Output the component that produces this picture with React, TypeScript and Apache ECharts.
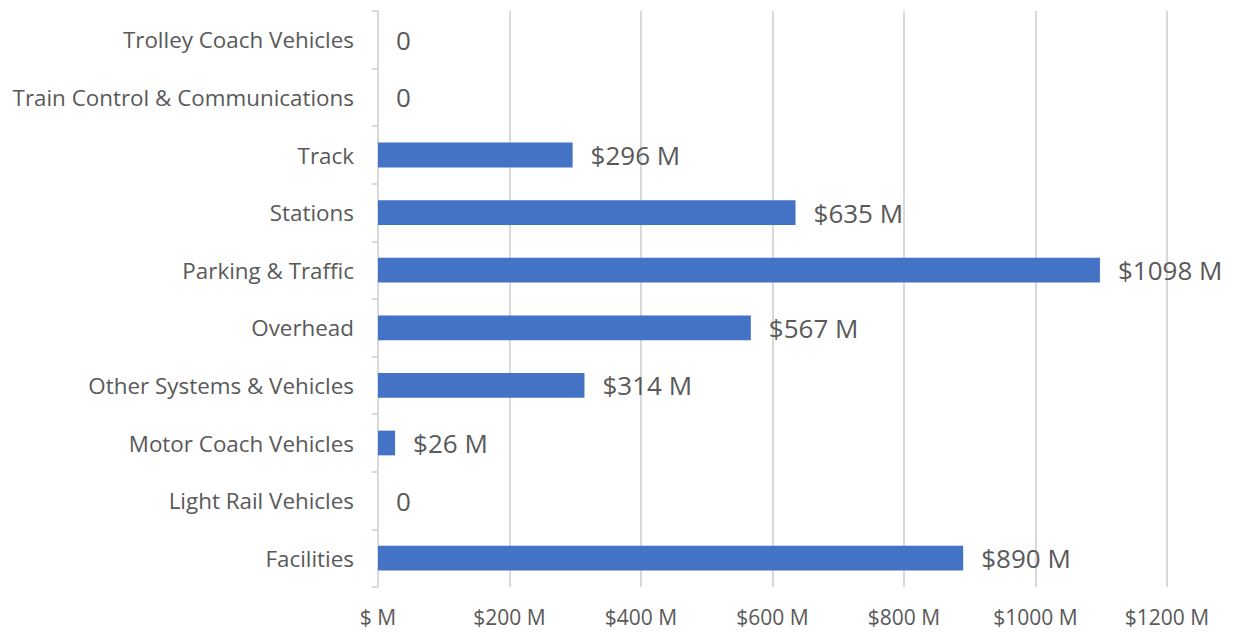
import React, { useEffect, useRef } from "react";
import * as echarts from "echarts";

const categories = [
  "Facilities",
  "Light Rail Vehicles",
  "Motor Coach Vehicles",
  "Other Systems & Vehicles",
  "Overhead",
  "Parking & Traffic",
  "Stations",
  "Track",
  "Train Control & Communications",
  "Trolley Coach Vehicles",
];
const values = [890, 0, 26, 314, 567, 1098, 635, 296, 0, 0];
const axisMin = 0;
const axisMax = 1200;
const axisStep = 200;

export default function App() {
  const ref = useRef<HTMLDivElement>(null);
  useEffect(() => {
    if (!ref.current) return;
    const chart = echarts.init(ref.current, undefined, { renderer: "svg" });
    const font = "'Open Sans', 'Segoe UI', sans-serif";
    chart.setOption({
      animation: false,
      backgroundColor: "#ffffff",
      grid: { left: 378, right: 67, top: 11, bottom: 45, containLabel: false },
      xAxis: {
        type: "value",
        min: axisMin,
        max: axisMax,
        interval: axisStep,
        axisLine: { show: false },
        axisTick: { show: false },
        splitLine: { lineStyle: { color: "#d9d9d9", width: 2 } },
        axisLabel: {
          color: "#595959",
          fontFamily: font,
          fontSize: 21,
          margin: 19,
          formatter: (v: number) => (v === 0 ? "$ M" : `$${v} M`),
        },
      },
      yAxis: {
        type: "category",
        data: categories,
        axisLine: { show: true, lineStyle: { color: "#d9d9d9", width: 2 } },
        axisTick: { show: true, length: 6, lineStyle: { color: "#d9d9d9", width: 2 } },
        axisLabel: { color: "#595959", fontFamily: font, fontSize: 22.4, margin: 24 },
      },
      series: [
        {
          type: "bar",
          data: values,
          barCategoryGap: "57%",
          itemStyle: { color: "#4472c4" },
          label: {
            show: true,
            position: "right",
            distance: 18,
            color: "#595959",
            fontFamily: font,
            fontSize: 26,
            formatter: (p: any) => (p.value === 0 ? "0" : `$${p.value} M`),
          },
        },
      ],
    });
    return () => chart.dispose();
  }, []);
  return (
    <div
      ref={ref}
      style={{ position: "fixed", left: 0, top: 0, width: 1234, height: 632, background: "#fff" }}
    />
  );
}
